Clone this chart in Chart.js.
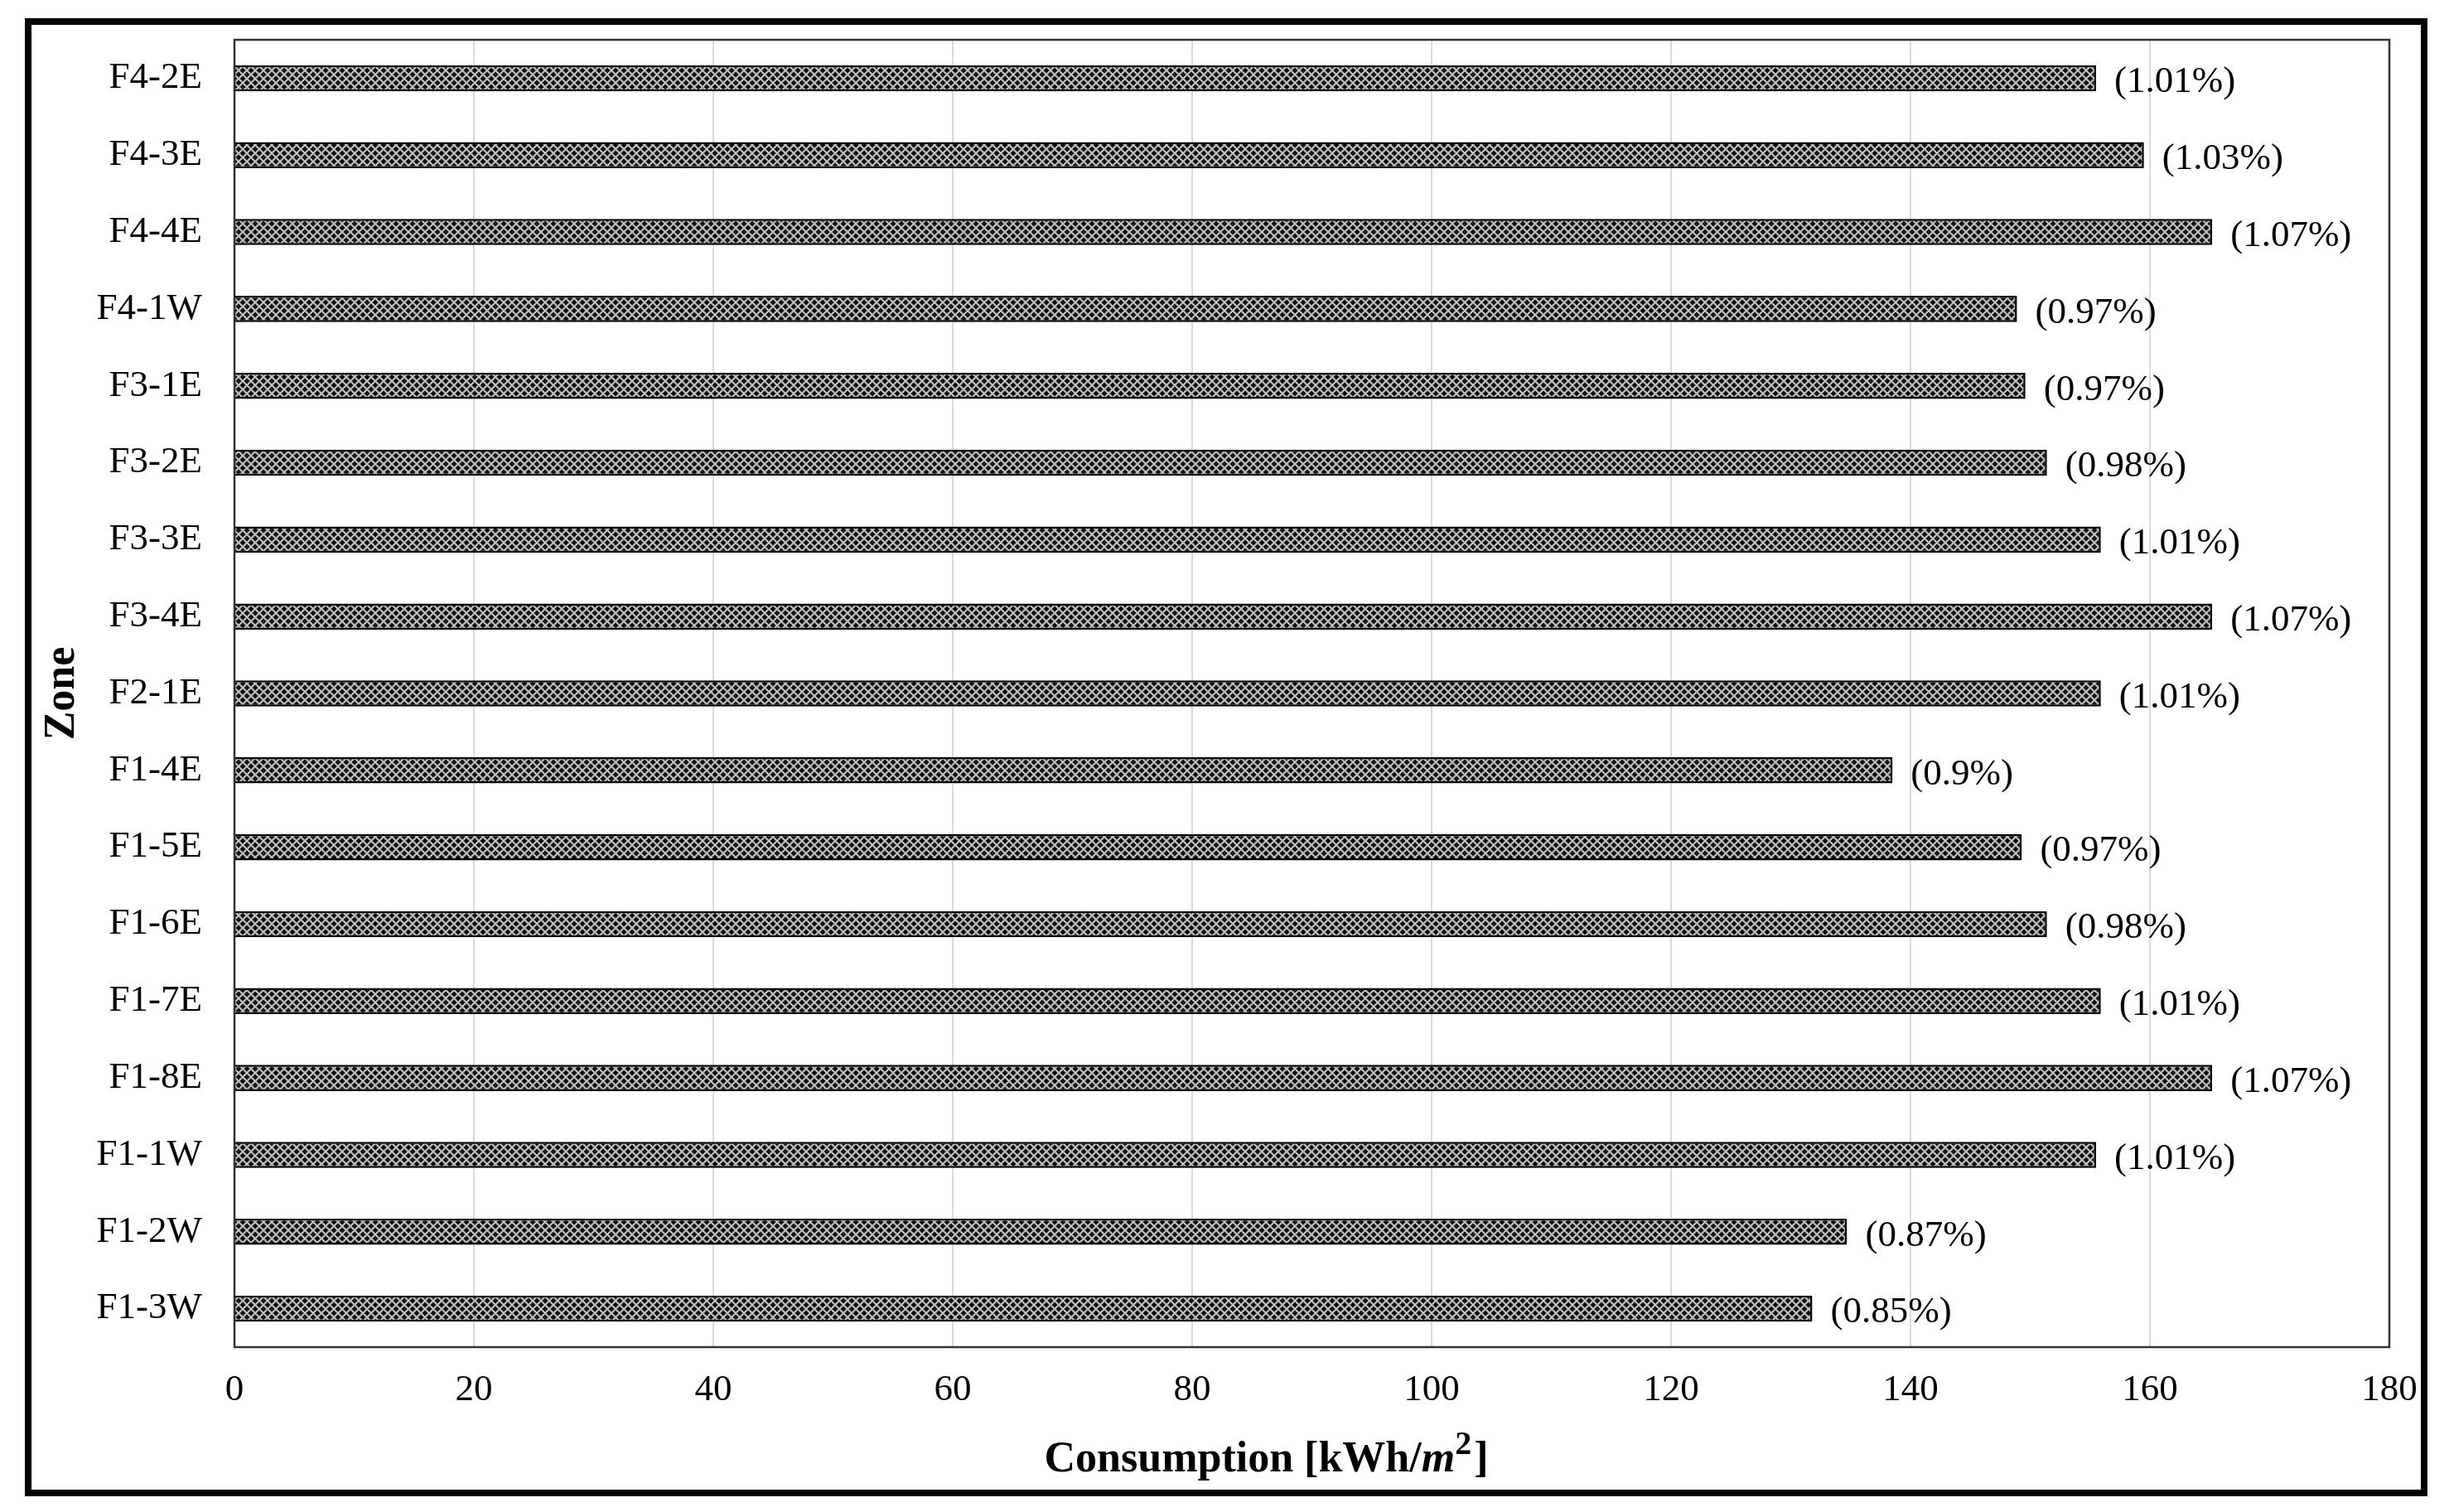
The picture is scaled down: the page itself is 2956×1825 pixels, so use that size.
<!DOCTYPE html>
<html lang="en">
<head>
<meta charset="UTF-8">
<title>Zone consumption</title>
<script src="https://cdn.jsdelivr.net/npm/chart.js@4.4.0/dist/chart.umd.min.js"></script>
<style>
html, body { margin: 0; padding: 0; background: #fff; }
#frame {
    position: absolute;
    left: 30px;
    top: 22px;
    width: 2900px;
    height: 1784px;
    border: 8px solid #000;
    box-sizing: border-box;
}
#wrap { position: relative; width: 2884px; height: 1768px; }
</style>
</head>
<body>
<div id="frame"><div id="wrap"><canvas id="myChart"></canvas></div></div>
<script>
// zones, top to bottom as in the figure
const zones = ["F4-2E", "F4-3E", "F4-4E", "F4-1W", "F3-1E", "F3-2E", "F3-3E", "F3-4E", "F2-1E",
               "F1-4E", "F1-5E", "F1-6E", "F1-7E", "F1-8E", "F1-1W", "F1-2W", "F1-3W"];
// consumption in kWh/m2
const consumption = [155.5, 159.5, 165.2, 148.9, 149.6, 151.4, 155.9, 165.2, 155.9,
                     138.5, 149.3, 151.4, 155.9, 165.2, 155.5, 134.7, 131.8];
// share shown next to each bar, in %
const shares = ["1.01", "1.03", "1.07", "0.97", "0.97", "0.98", "1.01", "1.07", "1.01",
                "0.9", "0.97", "0.98", "1.01", "1.07", "1.01", "0.87", "0.85"];
const xMin = 0;
const xMax = 180;
const xStep = 20;

const serif = '"Liberation Serif", "Times New Roman", serif';

// diamond lattice fill like the Excel pattern
function makePattern() {
    const tile = document.createElement('canvas');
    tile.width = 10;
    tile.height = 10;
    const t = tile.getContext('2d');
    t.fillStyle = '#151515';
    t.fillRect(0, 0, 10, 10);
    t.strokeStyle = '#c2c2c2';
    t.lineWidth = 2;
    t.beginPath();
    t.moveTo(0, 5); t.lineTo(5, 0); t.lineTo(10, 5); t.lineTo(5, 10); t.closePath();
    t.stroke();
    t.fillStyle = '#000';
    t.fillRect(4, 4, 2, 2);
    return document.getElementById('myChart').getContext('2d').createPattern(tile, 'repeat');
}

const barLabels = {
    id: 'barLabels',
    afterDatasetsDraw(chart) {
        const ctx = chart.ctx;
        const meta = chart.getDatasetMeta(0);
        ctx.save();
        ctx.font = '45px ' + serif;
        ctx.fillStyle = '#000';
        ctx.textAlign = 'left';
        ctx.textBaseline = 'middle';
        meta.data.forEach((bar, i) => {
            ctx.fillText('(' + shares[i] + '%)', bar.x + 22, bar.y + 5);
        });
        ctx.restore();
    }
};

const plotBox = {
    id: 'plotBox',
    afterDraw(chart) {
        const a = chart.chartArea;
        const ctx = chart.ctx;
        ctx.save();
        ctx.strokeStyle = '#333';
        ctx.lineWidth = 2.5;
        ctx.strokeRect(a.left, a.top, a.right - a.left, a.bottom - a.top);
        ctx.restore();
    }
};

// x axis title with italic m and raised 2, as in the figure
const xTitle = {
    id: 'xTitle',
    afterDraw(chart) {
        const ctx = chart.ctx;
        const a = chart.chartArea;
        const parts = [
            { text: 'Consumption [kWh/', font: 'bold 52px ' + serif, dy: 0 },
            { text: 'm', font: 'italic bold 52px ' + serif, dy: 0 },
            { text: '2', font: 'bold 40px ' + serif, dy: -21 },
            { text: ']', font: 'bold 52px ' + serif, dy: 0 }
        ];
        ctx.save();
        ctx.fillStyle = '#000';
        ctx.textBaseline = 'alphabetic';
        ctx.textAlign = 'left';
        let total = 0;
        parts.forEach(p => { ctx.font = p.font; p.w = ctx.measureText(p.text).width; total += p.w + (p.text === ']' ? 3 : 0); });
        let x = (a.left + a.right) / 2 - 55 - total / 2;
        const base = chart.scales.x.bottom - 22;
        parts.forEach(p => {
            ctx.font = p.font;
            if (p.text === ']') x += 3;
            ctx.fillText(p.text, x, base + p.dy);
            x += p.w;
        });
        ctx.restore();
    }
};

new Chart(document.getElementById('myChart'), {
    type: 'bar',
    data: {
        labels: zones,
        datasets: [{
            data: consumption,
            backgroundColor: makePattern(),
            borderColor: '#000',
            borderWidth: 2.5,
            barPercentage: 0.34,
            categoryPercentage: 1
        }]
    },
    options: {
        indexAxis: 'y',
        responsive: true,
        maintainAspectRatio: false,
        animation: false,
        layout: { padding: { left: 0, right: 38, top: 18, bottom: 0 } },
        plugins: {
            legend: { display: false },
            tooltip: { enabled: false }
        },
        scales: {
            x: {
                min: xMin,
                max: xMax,
                ticks: {
                    stepSize: xStep,
                    color: '#000',
                    padding: 25,
                    font: { family: serif, size: 45 }
                },
                grid: { color: '#d9d9d9', lineWidth: 2, drawTicks: false },
                border: { display: false },
                title: { display: false },
                afterFit(scale) {
                    scale.height = 172;
                    scale.paddingLeft = 0;
                    scale.paddingRight = 0;
                }
            },
            y: {
                ticks: {
                    color: '#000',
                    padding: 39,
                    font: { family: serif, size: 45 }
                },
                grid: { display: false, drawTicks: false },
                border: { display: false },
                title: {
                    display: true,
                    text: 'Zone',
                    color: '#000',
                    padding: { top: 6, bottom: 0 },
                    font: { family: serif, size: 52, weight: 'bold' }
                },
                afterFit(scale) {
                    scale.width = 245;
                    scale.paddingTop = 0;
                    scale.paddingBottom = 0;
                }
            }
        }
    },
    plugins: [barLabels, plotBox, xTitle]
});
</script>
</body>
</html>
